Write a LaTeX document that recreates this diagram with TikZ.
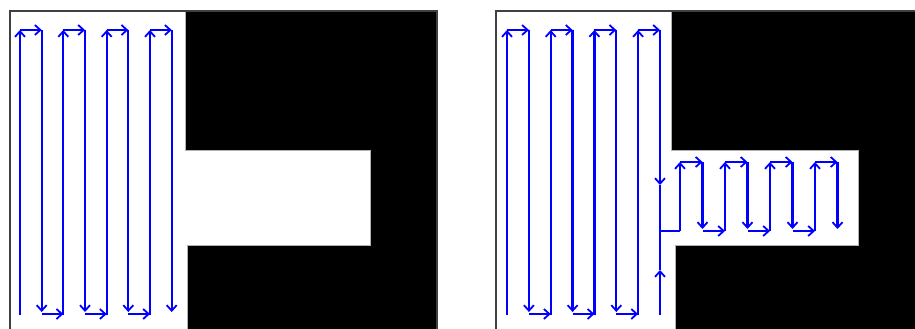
\documentclass[tikz,border=0pt]{standalone}
\usepackage{tikz}
\usetikzlibrary{arrows.meta}

\begin{document}
\begin{tikzpicture}[x=1pt,y=-1pt,
    sweep/.style={blue,line width=2.3pt,-{Straight Barb[length=5.5pt,width=10pt,line width=1.8pt]}},
    link/.style={blue,line width=2.3pt},
    obstacle/.style={fill=black,draw=gray!60,line width=0.8pt},
    border/.style={draw=black!75,line width=2.6pt}]
    \useasboundingbox (0,0) rectangle (915,329);
    \clip (0,0) rectangle (915,329);

    % Left map
    \fill[white] (10,11) rectangle (437,340);
    \draw[obstacle] (185,11) -- (437,11) -- (437,340) -- (187,340) -- (187,245)
        -- (370,245) -- (370,150) -- (185,150) -- cycle;
    \draw[border] (10,11) rectangle (437,340);

    % Left map: boustrophedon sweep
    \foreach \xa/\xb in {20/41.7, 63.3/85, 106.7/128.3, 150/171.7} {
        \draw[sweep] (\xa,315) -- (\xa,30);
        \draw[sweep] (\xa,30) -- (\xb,30);
        \draw[sweep] (\xb,30) -- (\xb,312);
    }
    \foreach \xa/\xb in {41.7/63.3, 85/106.7, 128.3/150} {
        \draw[sweep] (\xa,314) -- (\xb,314);
    }

    % Right map
    \fill[white] (496,11) rectangle (930,340);
    \draw[obstacle] (671,11) -- (930,11) -- (930,340) -- (675,340) -- (675,245)
        -- (858,245) -- (858,150) -- (671,150) -- cycle;
    \draw[border] (496,11) rectangle (930,340);

    % Right map: sweep of the open area
    \foreach \xa/\xb in {507/528.9, 550.7/572.6, 594.4/616.3} {
        \draw[sweep] (\xa,315) -- (\xa,30);
        \draw[sweep] (\xa,30) -- (\xb,30);
        \draw[sweep] (\xb,30) -- (\xb,312);
    }
    \foreach \xa/\xb in {528.9/550.7, 572.6/594.4, 616.3/638.1} {
        \draw[sweep] (\xa,314) -- (\xb,314);
    }
    \draw[sweep] (638.1,315) -- (638.1,30);
    \draw[sweep] (638.1,30) -- (660,30);
    \draw[sweep] (660,30) -- (660,185);
    \draw[link] (660,185) -- (660,231);
    \draw[sweep] (660,315) -- (660,270);
    \draw[link] (660,270) -- (660,231) -- (680,231);

    % Right map: sweep of the corridor
    \foreach \xa/\xb in {680/702.5, 725/747.5, 770/792.5, 815/837.5} {
        \draw[sweep] (\xa,231) -- (\xa,162);
        \draw[sweep] (\xa,162) -- (\xb,162);
        \draw[sweep] (\xb,162) -- (\xb,229);
    }
    \foreach \xa/\xb in {702.5/725, 747.5/770, 792.5/815} {
        \draw[sweep] (\xa,231) -- (\xb,231);
    }
\end{tikzpicture}
\end{document}
